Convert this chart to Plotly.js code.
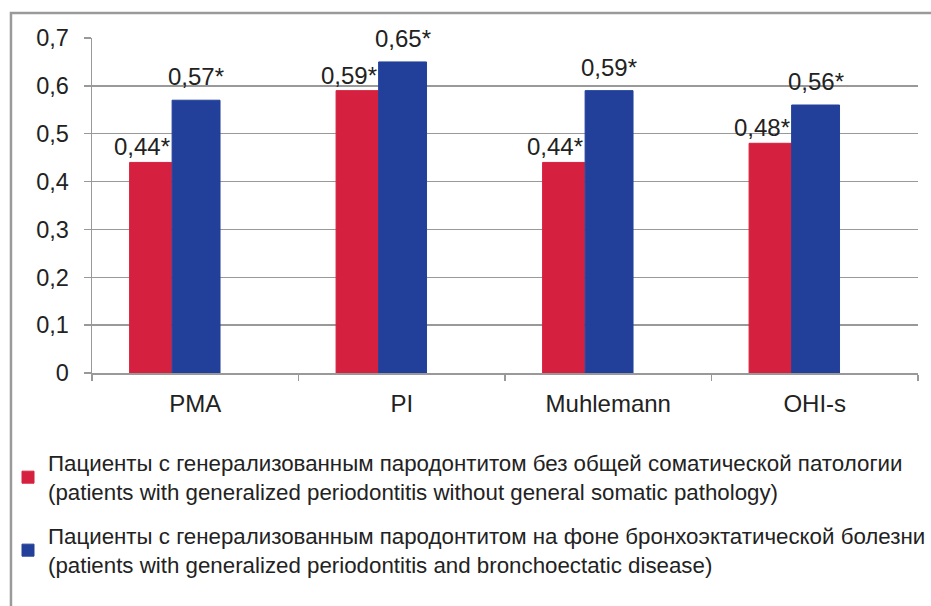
<!DOCTYPE html>
<html>
<head>
<meta charset="utf-8">
<script src="https://cdn.plot.ly/plotly-3.0.1.min.js"></script>
<style>
  html, body { margin: 0; padding: 0; background: #fff; }
  #chart { width: 931px; height: 606px; }
</style>
</head>
<body>
<div id="chart"></div>
<script>
// ---- data ----
const categories = ['PMA', 'PI', 'Muhlemann', 'OHI-s'];
const seriesNoPathology = [0.44, 0.59, 0.44, 0.48];
const seriesBronchiectasis = [0.57, 0.65, 0.59, 0.56];
const nameNoPathology = 'Пациенты с генерализованным пародонтитом без общей соматической патологии<br>(patients with generalized periodontitis without general somatic pathology)';
const nameBronchiectasis = 'Пациенты с генерализованным пародонтитом на фоне бронхоэктатической болезни<br>(patients with generalized periodontitis and bronchoectatic disease)';
const yTickValues = [0, 0.1, 0.2, 0.3, 0.4, 0.5, 0.6, 0.7];
const yTickLabels = ['0', '0,1', '0,2', '0,3', '0,4', '0,5', '0,6', '0,7'];

const fmt = v => v.toFixed(2).replace('.', ',') + '*';
const FONT = '"Liberation Sans", Arial, Helvetica, sans-serif';
const TXT = '#222222';
const RED = '#d5213f';
const BLUE = '#22409a';
const GRAY = '#999999';

const idx = categories.map((_, i) => i);
const boundaries = [-0.5].concat(idx.map(i => i + 0.5));

const RED_W = 0.204, RED_OFF = -0.318;
const BLUE_W = 0.232, BLUE_OFF = -0.112;

const traces = [
  {
    type: 'bar', x: idx, y: seriesNoPathology, name: nameNoPathology,
    legendgroup: 'a',
    marker: { color: RED, line: { color: RED, width: 1 } },
    width: RED_W, offset: RED_OFF,
    hoverinfo: 'none'
  },
  {
    type: 'bar', x: idx, y: seriesBronchiectasis, name: nameBronchiectasis,
    legendgroup: 'b',
    marker: { color: BLUE, line: { color: BLUE, width: 1 } },
    width: BLUE_W, offset: BLUE_OFF,
    hoverinfo: 'none'
  }
];

const labelFont = { family: FONT, size: 24, color: TXT };
const annotations = [].concat(
  seriesNoPathology.map((v, i) => ({
    x: i + BLUE_OFF, y: v, xref: 'x', yref: 'y',
    text: fmt(v), showarrow: false,
    xanchor: 'right', yanchor: 'bottom', xshift: 0, yshift: 0,
    font: labelFont
  })),
  seriesBronchiectasis.map((v, i) => ({
    x: i + BLUE_OFF + BLUE_W / 2, y: v, xref: 'x', yref: 'y',
    text: fmt(v), showarrow: false,
    xanchor: 'center', yanchor: 'bottom', yshift: 8,
    font: labelFont
  }))
);

const layout = {
  width: 931, height: 606,
  margin: { l: 92, r: 13, t: 38, b: 233, pad: 0 },
  paper_bgcolor: '#ffffff', plot_bgcolor: '#ffffff',
  font: { family: FONT, size: 24, color: TXT },
  showlegend: true,
  barmode: 'overlay',
  xaxis: {
    range: [-0.5, categories.length - 0.5],
    tickmode: 'array', tickvals: idx, ticktext: categories,
    ticks: '',
    minor: { tickmode: 'array', tickvals: boundaries, ticks: 'outside', ticklen: 6, tickwidth: 1.5, tickcolor: GRAY, showgrid: false },
    showgrid: false, zeroline: false,
    showline: true, linecolor: GRAY, linewidth: 1.5,
    tickfont: { family: FONT, size: 24, color: TXT },
    ticklabelstandoff: 9,
    fixedrange: true
  },
  yaxis: {
    range: [0, 0.7],
    tickvals: yTickValues, ticktext: yTickLabels,
    ticks: 'outside', ticklen: 7, tickwidth: 1.5, tickcolor: GRAY,
    showgrid: true, gridcolor: GRAY, gridwidth: 1.5,
    zeroline: false,
    showline: true, linecolor: GRAY, linewidth: 1.5,
    tickfont: { family: FONT, size: 23.5, color: TXT },
    ticklabelstandoff: 10,
    fixedrange: true
  },
  legend: {
    orientation: 'v',
    x: -0.0759, xanchor: 'left',
    y: -0.205, yanchor: 'top',
    font: { family: FONT, size: 22.3, color: TXT },
    tracegroupgap: 12,
    traceorder: 'grouped',
    bgcolor: 'rgba(0,0,0,0)'
  },
  annotations: annotations,
  shapes: [
    {
      type: 'rect', xref: 'paper', yref: 'paper',
      x0: -0.0981, x1: 1.06, y0: -0.8, y1: 1.0746,
      line: { color: '#9a9a9a', width: 2.5 },
      fillcolor: 'rgba(0,0,0,0)', layer: 'below'
    }
  ]
};

Plotly.newPlot('chart', traces, layout, { displayModeBar: false, staticPlot: true });
</script>
</body>
</html>
